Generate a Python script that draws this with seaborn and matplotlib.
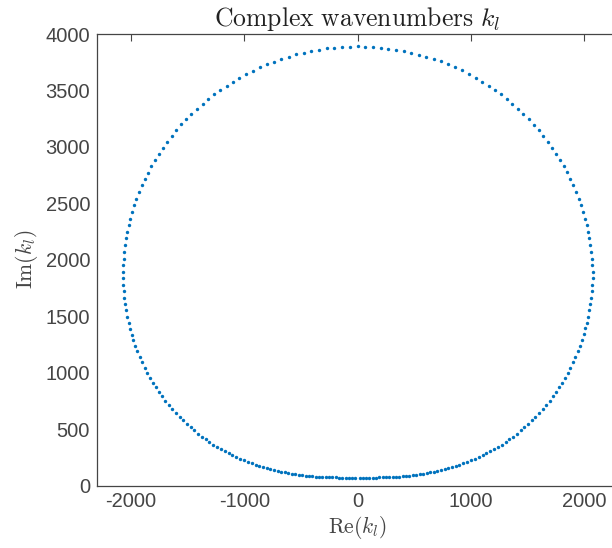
import numpy as np
import pandas as pd
import matplotlib
matplotlib.use("Agg")
import matplotlib.pyplot as plt
import seaborn as sns

# Complex wavenumbers k_l: real and imaginary parts, traced around the closed curve
re_k = [
    # top centre, then down the left side
    0, -67, -138, -206, -273, -341, -409, -476, -544, -608, -674, -738, -800, -862,
    -924, -985, -1045, -1100, -1156, -1212, -1265, -1318, -1368, -1418, -1468, -1513,
    -1559, -1601, -1642, -1680, -1718, -1754, -1789, -1822, -1851, -1880, -1906, -1930,
    -1954, -1974, -1992, -2007, -2021, -2034, -2045, -2054, -2060, -2065, -2069, -2072,
    -2072, -2069, -2065, -2060, -2054, -2045, -2034, -2021, -2010, -1995, -1981, -1963,
    # lower left towards the bottom
    -1945, -1924, -1904, -1880, -1857, -1833, -1807, -1780, -1754, -1727, -1698, -1665,
    -1636, -1604, -1571, -1542, -1509, -1474, -1442, -1407, -1374, -1341, -1310, -1274,
    -1242, -1206, -1174, -1138, -1106, -1071, -1036, -1003, -968, -935, -900, -868,
    -835, -803, -771, -738, -706, -674, -641, -612, -579, -550, -517, -488, -458, -429,
    -400, -370, -341, -312, -282, -253, -223, -193, -164, -135, -105, -76, -47, -18,
    # bottom towards the lower right
    18, 47, 76, 105, 135, 164, 193, 223, 253, 282, 312, 341, 370, 400,
    429, 458, 488, 517, 550, 579, 612, 641, 674, 706, 738, 771, 803, 835,
    868, 900, 935, 968, 1003, 1036, 1071, 1106, 1138, 1174, 1206, 1242,
    1274, 1310, 1341, 1374, 1407, 1442, 1474, 1509, 1542, 1571, 1604, 1636,
    1665, 1698, 1727, 1754, 1780, 1807, 1833, 1857, 1880, 1904, 1924, 1945,
    # up the right side back to the top
    1964, 1981, 1996, 2011, 2026, 2037, 2046, 2055, 2064, 2070, 2072, 2076, 2076,
    2072, 2070, 2064, 2055, 2046, 2037, 2023,
    2011, 1993, 1973, 1952, 1931, 1905,
    1878, 1852, 1823, 1790, 1755, 1719, 1681, 1640, 1599, 1555, 1511, 1463, 1416,
    1366, 1317, 1264, 1211, 1158, 1101, 1043, 984, 922, 860, 798, 734, 672, 607, 540,
    474, 407, 339, 271, 204, 136, 68,
]
im_k = [
    3890, 3887, 3884, 3878, 3872, 3860, 3848, 3833, 3819, 3798, 3778, 3754, 3731, 3704,
    3674, 3645, 3612, 3576, 3541, 3503, 3465, 3423, 3382, 3337, 3290, 3246, 3199, 3149,
    3096, 3045, 2992, 2939, 2883, 2830, 2770, 2715, 2659, 2600, 2540, 2484, 2425, 2363,
    2307, 2248, 2189, 2130, 2068, 2009, 1950, 1894, 1835, 1776, 1720, 1663, 1608, 1552,
    1495, 1442, 1389, 1336, 1286, 1236,
    1189, 1138, 1091, 1043, 996, 952, 911, 870, 828, 790, 751, 716, 680, 645, 609, 577,
    547, 518, 489, 459, 432, 409, 385, 361, 341, 321, 303, 285, 267, 250, 235, 223,
    208, 197, 184, 173, 164, 155, 146, 137, 131, 122, 117, 111, 105, 99, 96, 90, 87,
    84, 81, 78, 75, 75, 73, 73, 73, 73, 69, 69, 69, 69, 69, 69,
    69, 69, 69, 69, 69, 69, 73, 73, 73, 73, 75, 75,
    78, 81, 84, 87, 90, 96, 99, 105, 111,
    117, 122, 131, 137, 146, 155, 164, 173, 184, 197,
    208, 223, 235, 250, 267, 285, 303, 321, 341, 361,
    385, 409, 432, 459, 489, 518, 547, 577, 609, 645,
    680, 716, 751, 790, 828, 870, 911, 952, 996, 1043,
    1091, 1138, 1189,
    1236, 1286, 1339, 1392, 1442, 1495, 1552, 1608, 1663, 1720, 1776, 1835, 1894,
    1950, 2009, 2068, 2130, 2189, 2248, 2307,
    2363, 2425, 2484, 2540, 2600, 2659,
    2715, 2774, 2830, 2883, 2939, 2992, 3045, 3096, 3149, 3196, 3243, 3290, 3337,
    3382, 3423, 3465, 3503, 3541, 3576, 3612, 3645, 3677, 3704, 3731, 3757, 3778,
    3798, 3816, 3833, 3848, 3860, 3869, 3878, 3884, 3887,
]

x_ticks = [-2000, -1000, 0, 1000, 2000]
y_ticks = [0, 500, 1000, 1500, 2000, 2500, 3000, 3500, 4000]

df = pd.DataFrame({"re": re_k, "im": im_k})

sns.set_theme(style="white")
plt.rcParams["font.family"] = ["Liberation Sans", "DejaVu Sans"]
plt.rcParams["mathtext.fontset"] = "cm"

text_col = "#454545"
fig = plt.figure(figsize=(6.12, 5.48), dpi=100)
ax = fig.add_axes([97 / 612, 1 - 485.5 / 548, 521 / 612, 451.5 / 548])

sns.scatterplot(data=df, x="re", y="im", ax=ax, s=6, marker="o",
                color="#0072BD", linewidth=0, legend=False)

ax.set_xlim(-2300, 2300)
ax.set_ylim(0, 4000)
ax.set_xticks(x_ticks)
ax.set_yticks(y_ticks)
ax.set_xticklabels([str(v) for v in x_ticks])
ax.set_yticklabels([str(v) for v in y_ticks])

ax.tick_params(axis="both", direction="in", length=5, width=0.8, color=text_col,
               labelsize=14.5, labelcolor=text_col, top=True, right=False, pad=5)
for sp in ax.spines.values():
    sp.set_color(text_col)
    sp.set_linewidth(0.9)

ax.set_xlabel(r"$\mathrm{Re}(k_l)$", fontsize=15.5, color=text_col, labelpad=2)
ax.set_ylabel(r"$\mathrm{Im}(k_l)$", fontsize=15.5, color=text_col, labelpad=4)
ax.set_title(r"$\mathrm{Complex\ wavenumbers}\ k_l$", fontsize=18.5,
             color="#222222", pad=6)

fig.savefig("out.png", dpi=100)
